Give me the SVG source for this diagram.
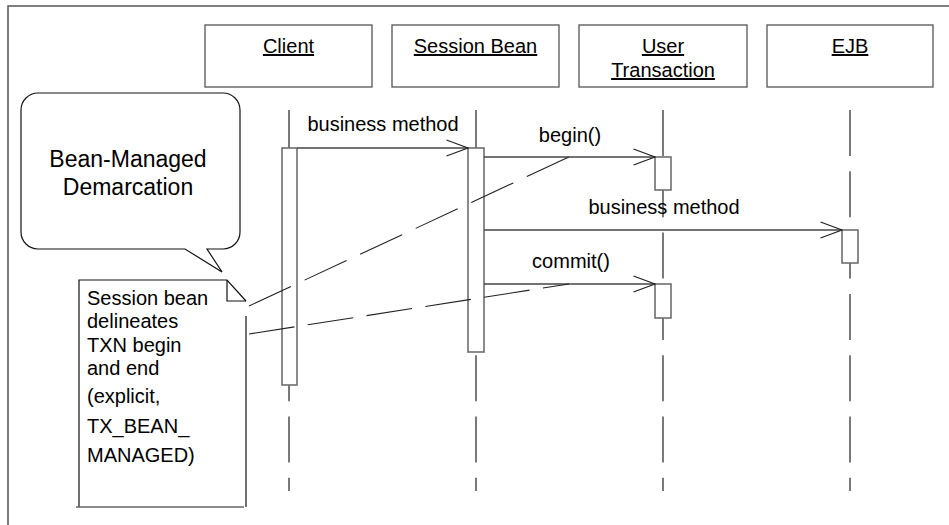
<svg xmlns="http://www.w3.org/2000/svg" width="949" height="525" viewBox="0 0 949 525">
<style>
  text { font-family: "Liberation Sans", Arial, Helvetica, sans-serif; fill: #000; }
  .hdr { font-size: 20px; text-anchor: middle; text-decoration: underline; }
  .lbl { font-size: 20px; text-anchor: middle; }
  .note { font-size: 20px; }
  .big { font-size: 23px; text-anchor: middle; }
  .box { fill: #fff; stroke: #555; stroke-width: 1.3; }
  .life { stroke: #222; stroke-width: 1.2; stroke-dasharray: 46 15.3; fill: none; }
  .bar { fill: #fff; stroke: #6e6e6e; stroke-width: 1.6; }
  .msg { stroke: #444; stroke-width: 1.3; fill: none; }
  .link { stroke: #222; stroke-width: 1.1; fill: none; }
  .outline { stroke: #111; stroke-width: 1.2; fill: #fff; }
</style>
<defs>
  <marker id="open" viewBox="-23 -9 24 18" refX="0" refY="0" markerWidth="24" markerHeight="18" markerUnits="userSpaceOnUse" orient="auto">
    <path d="M -21.5 -8 L 0 0 L -21.5 8" fill="none" stroke="#222" stroke-width="1.3"/>
  </marker>
</defs>
<rect width="949" height="525" fill="#fff"/>
<!-- frame -->
<path d="M 8 525 V 6 H 949" fill="none" stroke="#555" stroke-width="1.5"/>

<!-- lifelines -->
<g id="lifelines">
  <line class="life" x1="289" y1="110" x2="289" y2="491"/>
  <line class="life" x1="476" y1="110" x2="476" y2="491"/>
  <line class="life" x1="663" y1="110" x2="663" y2="491"/>
  <line class="life" x1="850" y1="110" x2="850" y2="491"/>
</g>

<g id="client">
  <rect class="box" x="205" y="25" width="167" height="62"/>
  <text class="hdr" x="288.5" y="53">Client</text>
  <rect class="bar" x="282" y="148" width="15" height="237"/>
</g>
<g id="session-bean">
  <rect class="box" x="392" y="25" width="167" height="62"/>
  <text class="hdr" x="475.5" y="53">Session Bean</text>
  <rect class="bar" x="468" y="148" width="16" height="204"/>
</g>
<g id="user-transaction">
  <rect class="box" x="579" y="25" width="168" height="62"/>
  <text class="hdr" x="663" y="53">User</text>
  <text class="hdr" x="663" y="77">Transaction</text>
  <rect class="bar" x="655" y="157" width="16" height="33"/>
  <rect class="bar" x="655" y="284" width="16" height="34"/>
</g>
<g id="ejb">
  <rect class="box" x="767" y="25" width="166" height="62"/>
  <text class="hdr" x="850" y="53">EJB</text>
  <rect class="bar" x="842" y="230" width="16" height="33"/>
</g>

<g id="connectors">
  <line class="msg" x1="297" y1="148" x2="468" y2="148" marker-end="url(#open)"/>
  <text class="lbl" x="383" y="131">business method</text>
  <line class="msg" x1="484" y1="157" x2="655" y2="157" marker-end="url(#open)"/>
  <text class="lbl" x="570" y="142">begin()</text>
  <line class="msg" x1="484" y1="230" x2="842" y2="230" marker-end="url(#open)"/>
  <text class="lbl" x="664" y="214">business method</text>
  <line class="msg" x1="484" y1="284" x2="655" y2="284" marker-end="url(#open)"/>
  <text class="lbl" x="571" y="268">commit()</text>
  <line class="link" x1="249" y1="306" x2="569" y2="157" stroke-dasharray="46.3 15"/>
  <line class="link" x1="249" y1="334" x2="569" y2="284" stroke-dasharray="46 13.5"/>
</g>

<g id="callout">
  <path class="outline" d="M 38 93 H 223 A 17 17 0 0 1 240 110 V 232 A 17 17 0 0 1 223 249 H 207 L 222 272 L 185 249 H 38 A 17 17 0 0 1 21 232 V 110 A 17 17 0 0 1 38 93 Z"/>
  <text class="big" x="128" y="167">Bean-Managed</text>
  <text class="big" x="128" y="195">Demarcation</text>
</g>

<g id="note">
  <path d="M 79 507 V 280 H 227 L 246 301" fill="none" stroke="#111" stroke-width="1.2"/>
  <path d="M 227 280 V 301 H 246" fill="none" stroke="#111" stroke-width="1.2"/>
  <path d="M 246 316 V 507" fill="none" stroke="#111" stroke-width="1.2"/>
  <path d="M 76 507 H 244" fill="none" stroke="#666" stroke-width="1.6"/>
  <text class="note" x="87" y="305">Session bean</text>
  <text class="note" x="87" y="328">delineates</text>
  <text class="note" x="87" y="352">TXN begin</text>
  <text class="note" x="87" y="375">and end</text>
  <text class="note" x="87" y="403">(explicit,</text>
  <text class="note" x="87" y="433">TX_BEAN_</text>
  <text class="note" x="87" y="462">MANAGED)</text>
</g>
</svg>
